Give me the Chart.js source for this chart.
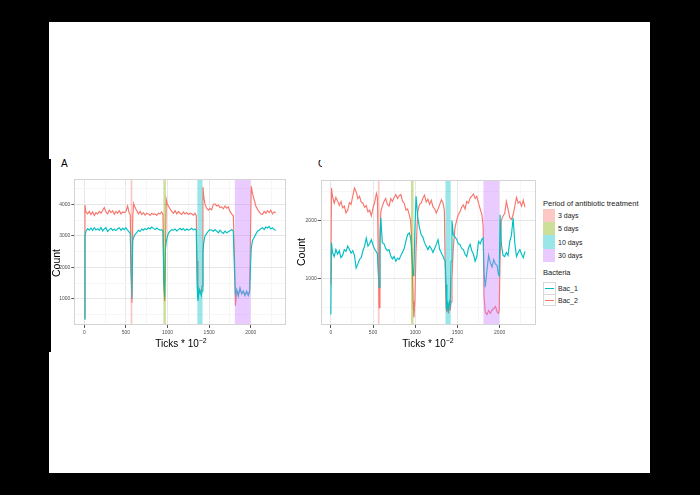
<!DOCTYPE html>
<html><head><meta charset="utf-8">
<script src="https://cdn.jsdelivr.net/npm/chart.js@4.4.0/dist/chart.umd.min.js"></script>
<style>
html,body{margin:0;padding:0;background:#000;width:700px;height:495px;overflow:hidden;font-family:"Liberation Sans",Arial,Helvetica,sans-serif;}
#paper{position:absolute;left:49px;top:22px;width:601px;height:451px;background:#fff;}
#bar{position:absolute;left:49px;top:159px;width:2px;height:193px;background:#000;}
canvas{position:absolute;}
.t{position:absolute;white-space:nowrap;color:#000;}
.key{position:absolute;left:543px;width:12px;}
.lk{position:absolute;left:543px;width:11px;height:10.5px;border:0.6px solid #d8d8d8;background:#fff;}
.lk i{position:absolute;left:1px;right:1px;top:5px;height:1px;}
</style></head><body>
<div id="paper"></div><div id="bar"></div>
<canvas id="cA" width="250" height="175" style="left:40px;top:170px"></canvas>
<canvas id="cC" width="250" height="175" style="left:290px;top:170px"></canvas>

<div class="t" style="left:61px;top:159px;font-size:10px;line-height:10px;">A</div>
<div style="position:absolute;left:318px;top:159.5px;width:4px;height:8px;overflow:hidden;"><div class="t" style="left:0;top:-1px;font-size:10px;line-height:10px;">C</div></div>

<div class="t" style="left:56px;top:263px;font-size:10.5px;line-height:10.5px;transform:translate(-50%,-50%) rotate(-90deg);">Count</div>
<div class="t" style="left:301px;top:252px;font-size:10.5px;line-height:10.5px;transform:translate(-50%,-50%) rotate(-90deg);">Count</div>
<div class="t" style="left:181px;top:338.8px;font-size:10px;line-height:10px;transform:translateX(-50%);">Ticks * 10<span style="font-size:7px;position:relative;top:-4px;">−2</span></div>
<div class="t" style="left:428px;top:338.8px;font-size:10px;line-height:10px;transform:translateX(-50%);">Ticks * 10<span style="font-size:7px;position:relative;top:-4px;">−2</span></div>

<div id="legend"></div>

<script>
// ---------- data ----------
const X = [
  0, 8, 20, 40, 60, 80, 100, 120, 140, 160,
  180, 200, 220, 240, 260, 280, 300, 320, 340, 360,
  380, 400, 420, 440, 460, 480, 500, 520, 540, 552,
  562, 572, 582, 592, 610, 630, 650, 670, 690, 710,
  730, 750, 770, 790, 810, 830, 850, 870, 890, 910,
  930, 945, 955, 965, 975, 985, 995, 1010, 1030, 1050,
  1070, 1090, 1110, 1130, 1150, 1170, 1190, 1210, 1230, 1250,
  1270, 1290, 1310, 1330, 1345, 1355, 1365, 1375, 1385, 1395,
  1405, 1415, 1425, 1435, 1450, 1470, 1490, 1510, 1530, 1550,
  1570, 1590, 1610, 1630, 1650, 1670, 1690, 1710, 1730, 1750,
  1770, 1790, 1805, 1815, 1830, 1850, 1870, 1890, 1910, 1930,
  1950, 1970, 1985, 1995, 2005, 2020, 2040, 2060, 2080, 2100,
  2120, 2140, 2160, 2180, 2200, 2220, 2240, 2260, 2280, 2300
];
const A_BAC1 = [
  350, 3000, 3150, 3230, 3180, 3250, 3170, 3260, 3190, 3230,
  3180, 3270, 3160, 3220, 3260, 3140, 3200, 3240, 3180, 3210,
  3170, 3230, 3260, 3180, 3240, 3200, 3260, 3180, 3120, 3080,
  1800, 1000, 2850, 2950, 3050, 3100, 3180, 3140, 3220, 3180,
  3230, 3200, 3260, 3220, 3280, 3240, 3200, 3250, 3210, 3180,
  3200, 3150, 1500, 1030, 2600, 2820, 2950, 3080, 3150, 3200,
  3180, 3220, 3160, 3200, 3240, 3190, 3230, 3170, 3220, 3180,
  3200, 3240, 3190, 3220, 3180, 1400, 930, 1150, 1290, 1200,
  1100, 1250, 2450, 2800, 3000, 3080, 3150, 3200, 3180, 3150,
  3200, 3150, 3100, 3180, 3120, 3080, 3150, 3100, 3130, 3160,
  3200, 3150, 1800, 1150, 1300, 1080, 1350, 1150, 1250, 1100,
  1240, 1100, 1200, 1900, 2600, 2850, 2950, 3050, 3150, 3180,
  3230, 3260, 3200, 3280, 3250, 3300, 3220, 3260, 3200, 3180
];
const A_BAC2 = [
  400, 3980, 3760, 3700, 3780, 3680, 3760, 3650, 3740, 3700,
  3780, 3720, 3810, 3900, 3760, 3700, 3820, 3740, 3800, 3690,
  3780, 3720, 3800, 3700, 3760, 3740, 3780, 3950, 3720, 3680,
  2200, 870, 3600, 4030, 3900, 3800, 3700, 3780, 3680, 3740,
  3660, 3720, 3700, 3650, 3720, 3680, 3700, 3650, 3720, 3700,
  3760, 3680, 1600, 920, 2600, 4150, 4020, 3950, 3860, 3780,
  3720, 3800, 3700, 3780, 3720, 3680, 3760, 3700, 3740, 3680,
  3720, 3700, 3660, 3720, 3650, 2200, 1100, 1180, 1250, 1220,
  1250, 1400, 4550, 4250, 4000, 3880, 3820, 3870, 3830, 4000,
  4020, 3950, 3980, 3900, 3920, 3860, 3950, 3880, 3920, 3780,
  3700, 3640, 2200, 780, 1250, 1150, 1300, 1200, 1200, 1150,
  1200, 1150, 1250, 2800, 4580, 4350, 4150, 3950, 3850, 3760,
  3700, 3680, 3780, 3720, 3800, 3740, 3820, 3700, 3760, 3740
];
const C_BAC1 = [
  380, 1620, 1450, 1380, 1500, 1420, 1480, 1360, 1400, 1500,
  1470, 1560, 1500, 1440, 1480, 1400, 1180, 1250, 1330, 1360,
  1480, 1560, 1700, 1560, 1600, 1670, 1580, 1500, 1460, 1430,
  1100, 850, 1700, 2050, 1620, 1600, 1520, 1480, 1500, 1390,
  1340, 1380, 1300, 1350, 1330, 1400, 1460, 1520, 1650, 1760,
  1790, 1700, 1550, 1300, 1050, 1150, 1800, 2420, 2050, 1880,
  1760, 1720, 1620, 1560, 1500, 1560, 1520, 1450, 1520, 1590,
  1670, 1500, 1440, 1380, 1330, 1300, 900, 450, 560, 480,
  600, 560, 1300, 2000, 1760, 1720, 1680, 1600, 1590, 1520,
  1500, 1420, 1380, 1520, 1590, 1480, 1420, 1300, 1380, 1640,
  1600, 1680, 1700, 1100, 850, 1150, 1400, 1270, 1200, 1330,
  1250, 1230, 1080, 1050, 2100, 1600, 1400, 1380, 1450, 1400,
  1640, 1750, 2050, 1600, 1380, 1450, 1500, 1420, 1360, 1470
];
const C_BAC2 = [
  900, 2560, 2420, 2300, 2400, 2340, 2260, 2330, 2220, 2250,
  2130, 2180, 2310, 2280, 2420, 2560, 2500, 2380, 2420, 2320,
  2300, 2230, 2260, 2150, 2180, 2080, 2220, 2320, 2470, 2400,
  1400, 500, 1500, 2150, 2250, 2330, 2380, 2280, 2250, 2380,
  2330, 2400, 2450, 2380, 2430, 2450, 2330, 2300, 2180, 2200,
  2100, 2000, 1750, 1200, 600, 330, 600, 1500, 2150, 2280,
  2300, 2380, 2440, 2320, 2370, 2280, 2350, 2240, 2200, 2130,
  2200, 2280, 2360, 2300, 2180, 1200, 500, 420, 550, 400,
  600, 450, 600, 1000, 1500, 1870, 2000, 2100, 2150, 2230,
  2270, 2200, 2330, 2300, 2390, 2420, 2460, 2380, 2420, 2300,
  2200, 2100, 1900, 700, 420, 380, 450, 400, 460, 480,
  520, 430, 400, 450, 1300, 2000, 2080, 2120, 2330, 2200,
  2050, 2020, 2100, 2250, 2400, 2300, 2330, 2250, 2350, 2230
];
const BAND_LABELS = ["3 days", "5 days", "10 days", "30 days"];
const BAND_START = [557, 950, 1358, 1808];
const BAND_END = [577, 980, 1420, 1993];
const BAND_COLORS = ["rgba(248,118,109,0.4)", "rgba(124,174,0,0.4)", "rgba(0,191,196,0.4)", "rgba(199,124,255,0.4)"];
const SERIES_LABELS = ["Bac_1", "Bac_2"];
const SERIES_COLORS = ["#00BFC4", "#F8766D"];
const X_TICKS = [0, 500, 1000, 1500, 2000];
const X_MINOR = [250, 750, 1250, 1750, 2250];
const A_Y_TICKS = [1000, 2000, 3000, 4000];
const A_Y_MINOR = [500, 1500, 2500, 3500, 4500];
const C_Y_TICKS = [1000, 2000];
const C_Y_MINOR = [500, 1500, 2500];

// ---------- chart ----------
const FAM = '"Liberation Sans", Arial, sans-serif';
const bandsPlugin = {
  id: 'bands',
  afterDatasetsDraw(chart) {
    const {ctx, chartArea: a, scales: {x}} = chart;
    ctx.save();
    ctx.beginPath(); ctx.rect(a.left, a.top, a.right - a.left, a.bottom - a.top); ctx.clip();
    BAND_START.forEach((s, i) => {
      const x0 = x.getPixelForValue(s), x1 = x.getPixelForValue(BAND_END[i]);
      ctx.fillStyle = BAND_COLORS[i];
      ctx.fillRect(x0, a.top, x1 - x0, a.bottom - a.top);
    });
    ctx.restore();
  }
};
const borderPlugin = {
  id: 'pborder',
  afterDraw(chart) {
    const {ctx, chartArea: a} = chart;
    ctx.save();
    ctx.strokeStyle = '#d4d4d4'; ctx.lineWidth = 1;
    ctx.strokeRect(Math.round(a.left) + 0.5, Math.round(a.top) + 0.5, Math.round(a.right - a.left) - 1, Math.round(a.bottom - a.top) - 1);
    ctx.restore();
  }
};
function axis(major, minor, min, max, fit, isX) {
  return {
    type: 'linear', min, max,
    afterBuildTicks: s => { s.ticks = major.concat(minor).sort((p, q) => p - q).map(v => ({value: v})); },
    afterFit: s => { if (isX) s.height = fit; else s.width = fit; },
    ticks: {autoSkip: false, maxRotation: 0, font: {size: 5, family: FAM}, color: '#4d4d4d', padding: isX ? 1.5 : 1,
            callback: v => major.includes(v) ? String(v) : ''},
    grid: {color: c => major.includes(c.tick.value) ? '#e6e6e6' : '#f6f6f6',
           tickColor: c => major.includes(c.tick.value) ? '#555' : 'rgba(0,0,0,0)',
           tickLength: 3, lineWidth: 1},
    border: {display: false}
  };
}
function panel(id, s1, s2, yMin, yMax, yMajor, yMinor, yWidth, padTop, padRight) {
  return new Chart(document.getElementById(id), {
    type: 'line',
    data: {datasets: [
      {label: SERIES_LABELS[0], data: X.map((x, i) => ({x, y: s1[i]})), borderColor: SERIES_COLORS[0], borderWidth: 1.15, pointRadius: 0, order: 1},
      {label: SERIES_LABELS[1], data: X.map((x, i) => ({x, y: s2[i]})), borderColor: SERIES_COLORS[1], borderWidth: 1.15, pointRadius: 0, order: 2}
    ]},
    options: {
      responsive: false, animation: false, devicePixelRatio: 1,
      layout: {padding: {top: padTop, right: padRight, left: 0, bottom: 0}},
      plugins: {legend: {display: false}, tooltip: {enabled: false}},
      scales: {
        x: axis(X_TICKS, X_MINOR, -120, 2425, 20, true),
        y: axis(yMajor, yMinor, yMin, yMax, yWidth, false)
      }
    },
    plugins: [bandsPlugin, borderPlugin]
  });
}
panel('cA', A_BAC1, A_BAC2, 165, 4800, A_Y_TICKS, A_Y_MINOR, 34.3, 9.3, 3.8);
panel('cC', C_BAC1, C_BAC2, 200, 2700, C_Y_TICKS, C_Y_MINOR, 30.7, 10, 4.5);

// ---------- legend ----------
const L = document.getElementById('legend');
let h = '<div class="t" style="left:543px;top:199.7px;font-size:7.5px;line-height:7.5px;color:#1a1a1a;">Period of antibiotic treatment</div>';
BAND_LABELS.forEach((lab, i) => {
  const top = 208.5 + i * 13.4, c = top + 6.7;
  h += `<div class="key" style="top:${top}px;height:13.4px;background:${BAND_COLORS[i]};"></div>`;
  h += `<div class="t" style="left:558px;top:${c - 3.4}px;font-size:7px;line-height:7px;color:#1a1a1a;">${lab}</div>`;
});
h += '<div class="t" style="left:543px;top:269.2px;font-size:7.5px;line-height:7.5px;color:#1a1a1a;">Bacteria</div>';
SERIES_LABELS.forEach((lab, i) => {
  const top = 282 + i * 11.6, c = top + 5.8;
  h += `<div class="lk" style="top:${top}px;"><i style="background:${SERIES_COLORS[i]}"></i></div>`;
  h += `<div class="t" style="left:558px;top:${c - 2.9}px;font-size:7px;line-height:7px;color:#1a1a1a;">${lab}</div>`;
});
L.innerHTML = h;
</script>
</body></html>
